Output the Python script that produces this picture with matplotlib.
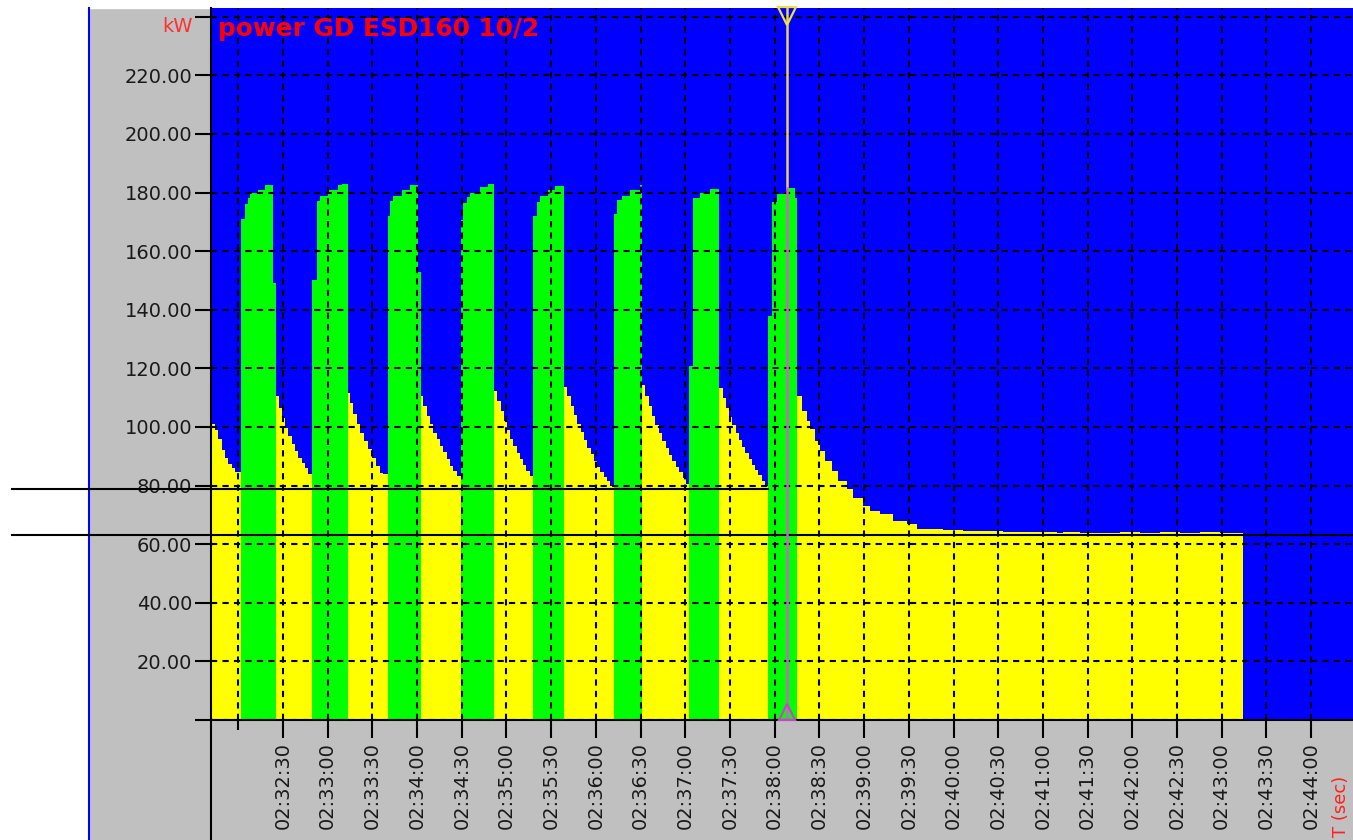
import matplotlib
matplotlib.use("Agg")
import matplotlib.pyplot as plt
from matplotlib.lines import Line2D
from matplotlib.patches import Rectangle

# time in seconds after 02:32:00
t_base = 2 * 3600 + 32 * 60

# logged power samples (start time of each sample, kW)
t_sec = [
    -18.3, -15.6, -13.6, -10.9, -8.9, -6.9, -4.2, -2.2,
    1.8, 4.5, 6.3, 7.9, 13.4, 17.9, 23.5,
    25.1, 27.3, 29.1, 31.3, 33.6, 35.8, 38.1, 40.3, 42.5, 44.8, 47.0,
    49.3, 52.6, 54.8, 60.4, 67.1, 69.4,
    73.8, 75.0, 77.2, 79.5, 81.7, 84.6, 87.2, 89.5, 92.2, 95.1, 97.3,
    100.3, 101.8, 104.0, 109.7, 115.2, 120.8,
    122.6, 124.2, 126.4, 128.6, 130.9, 133.1, 135.4, 137.6, 139.9, 142.1, 144.3, 146.6,
    149.5, 151.0, 153.3, 155.5, 162.2, 167.8,
    171.6, 173.8, 176.0, 178.2, 180.3, 182.5, 184.7, 186.9, 189.0, 191.3, 193.4, 195.6,
    197.8, 200.3, 202.5, 208.0, 212.5,
    218.6, 220.8, 223.0, 225.2, 227.4, 229.7, 231.9, 234.1, 236.4, 238.6, 240.8, 243.0,
    245.2, 247.4, 249.7,
    251.9, 253.9, 257.3, 262.9, 269.6,
    270.9, 273.2, 275.5, 277.7, 280.0, 282.3, 284.5, 286.8, 289.0, 291.3, 293.6, 295.9,
    298.2, 300.4,
    302.7, 304.9, 309.8, 316.6,
    322.8, 325.0, 327.2, 329.4, 331.6, 333.7, 335.9, 338.2, 340.3, 342.5, 344.7, 346.9,
    349.1, 351.3, 353.5,
    355.7, 358.0, 361.3, 368.0, 373.6,
    374.9, 378.1, 381.5, 383.7, 387.0, 390.4, 393.7, 398.2, 402.7, 408.3, 412.7, 419.4,
    423.9, 430.6, 439.6, 448.6, 455.3, 473.1, 486.4, 513.2, 531.3, 549.2, 553.5, 564.9,
    578.3, 591.7, 605.1, 618.6, 632.0, 645.4, 658.8,
]
power_kw = [
    101, 99, 96, 92, 89.5, 87.5, 86, 84.5,
    171, 176, 178, 179.7, 181, 182.5, 149,
    110.5, 106.6, 103.2, 99.8, 96.9, 94.1, 91.8, 89.5, 87.8, 86.1, 83.8,
    150, 177, 179, 181, 182.6, 183.1,
    111.5, 108.3, 104.3, 100.9, 98.1, 95.2, 92.4, 89.5, 86.7, 84.4, 83.8,
    172, 177, 179, 181, 182.5, 153,
    110.5, 107.1, 103.7, 101, 98.1, 95.9, 93.6, 91.4, 89.1, 86.8, 85.1, 83.4,
    170.8, 176.4, 178.5, 179.7, 181.8, 183.1,
    112.3, 109, 105.5, 102, 99, 96, 93.5, 91, 89, 87, 85, 83.2,
    172, 176.7, 179, 181, 182.4,
    113.7, 110.5, 107, 104, 101, 98.3, 95.6, 93, 90.7, 88.5, 86.5, 84.7,
    83, 81.5, 80,
    172.6, 177.5, 179, 181, 182.6,
    114.2, 110.5, 107, 103.8, 100.7, 98, 95.3, 92.8, 90.5, 88.3, 86.3, 84.5,
    82.5, 80.5,
    120.8, 178, 180, 181.3,
    113.4, 110, 106.6, 103.5, 100.6, 98, 95.5, 93.2, 91, 89, 87, 85.2,
    83.5, 81.5, 79.8,
    137.9, 176.7, 179.4, 181.7, 178,
    110.5, 105.4, 102, 99.2, 95.2, 91.8, 88.4, 85, 81.5, 78.7, 75.9, 73,
    71.3, 70.2, 67.9, 66.8, 65.3, 64.8, 64.5, 64.2, 64.0, 63.7, 64.3, 63.8,
    63.9, 64.2, 63.7, 64.1, 63.8, 64.3, 63.9,
]
t_last = 674.3

# load phases (green)
load_start = [1.8, 49.3, 100.3, 149.5, 197.8, 251.9, 302.7, 355.7]
load_end = [25.1, 73.8, 122.6, 171.6, 218.6, 270.9, 322.8, 374.9]

# reference levels and cursor
level_kw = [79.0, 63.3]
level_until = [355.7, None]
cursor_t = 368.2
cursor_kw = 181.7

BLUE = "#0000ff"
YELLOW = "#ffff00"
GREEN = "#00ff00"
GRAY = "#c0c0c0"


def hms(s):
    s = int(round(t_base + s))
    return "%02d:%02d:%02d" % (s // 3600, (s // 60) % 60, s % 60)


fig = plt.figure(figsize=(13.53, 8.4), dpi=100, facecolor=GRAY)

# window chrome behind everything
fig.patches.append(Rectangle((0, 0), 88 / 1353, 1, transform=fig.transFigure,
                             color="white", zorder=-2))
fig.patches.append(Rectangle((0, 832 / 840), 1, 8 / 840, transform=fig.transFigure,
                             color="white", zorder=-2))
fig.lines.append(Line2D([88.5 / 1353] * 2, [0, 832 / 840], transform=fig.transFigure,
                        color=BLUE, lw=1.5, zorder=-1))
fig.lines.append(Line2D([211 / 1353] * 2, [0, 120 / 840], transform=fig.transFigure,
                        color="black", lw=1.5, zorder=-1))

ax = fig.add_axes([211 / 1353, 120 / 840, 1142 / 1353, 712 / 840])
ax.set_facecolor(BLUE)
ax.set_xlim(-18.3, 748.1)
ax.set_ylim(0, 243.0)
ax.set_axisbelow(False)

edges = t_sec + [t_last]
is_load = [any(s <= t < e for s, e in zip(load_start, load_end)) for t in t_sec]
i = 0
while i < len(t_sec):
    j = i
    while j < len(t_sec) and is_load[j] == is_load[i]:
        j += 1
    ax.stairs(power_kw[i:j], edges[i:j + 1], baseline=0, fill=True,
              color=GREEN if is_load[i] else YELLOW, lw=0,
              antialiased=False, zorder=1)
    i = j

# grid
dash = (0, (3, 2.5))
ax.grid(True, which="major", color="black", ls=dash, lw=1.5)
ax.grid(True, which="minor", axis="x", color="black", ls=dash, lw=1.5)

# ticks
x_major = list(range(30, 721, 30))
ax.set_xticks(x_major)
ax.set_xticklabels([hms(s) for s in x_major], rotation=90)
ax.set_xticks([0], minor=True)
ax.tick_params(axis="x", which="major", length=13, width=1.5, pad=3,
               labelsize=14, labelcolor="#1a1a1a")
ax.tick_params(axis="x", which="minor", length=7, width=1.5)

y_ticks = list(range(0, 241, 20))
y_labels = ["" if v == 0 else ("kW" if v == 240 else "%.2f" % v) for v in y_ticks]
ax.set_yticks(y_ticks)
ax.set_yticklabels(y_labels)
ax.tick_params(axis="y", length=11.5, width=1.5, pad=2, labelsize=14,
               labelcolor="#1a1a1a")
kw_label = ax.get_yticklabels()[-1]
kw_label.set_color("#ff3030")
kw_label.set_va("top")

for side in ["top", "right"]:
    ax.spines[side].set_visible(False)
for side in ["left", "bottom"]:
    ax.spines[side].set_color("black")
    ax.spines[side].set_linewidth(1.5)

# reference level lines, running out into the left margin
x0, x1 = ax.get_xlim()
x_margin = x0 - 0.174 * (x1 - x0)
for lv, until in zip(level_kw, level_until):
    ax.plot([x_margin, until if until is not None else x1], [lv, lv],
            color="black", lw=1.5, clip_on=False, zorder=4)

# cursor
ax.plot([cursor_t, cursor_t], [cursor_kw, 243], color="#e6d25a", lw=1.8, zorder=5)
ax.plot([cursor_t, cursor_t], [0, cursor_kw], color="#d060d0", lw=1.8, zorder=5)
ax.plot([cursor_t], [240.4], marker="v", ms=13, mfc="none", mec="#f0e040",
        mew=1.6, zorder=6, clip_on=False)
ax.plot([cursor_t], [2.6], marker="^", ms=12, mfc="none", mec="#d040d0",
        mew=1.6, zorder=6)

ax.text(0.006, 0.9607, "power GD ESD160 10/2", transform=ax.transAxes,
        ha="left", va="baseline", fontsize=17.8, fontweight="bold", color="#ff0000")

fig.text(1341 / 1353, 3 / 840, "T (sec)", rotation=90, ha="center", va="bottom",
         fontsize=13, color="#ff2020")

fig.savefig("out.png", dpi=100, facecolor=fig.get_facecolor())
